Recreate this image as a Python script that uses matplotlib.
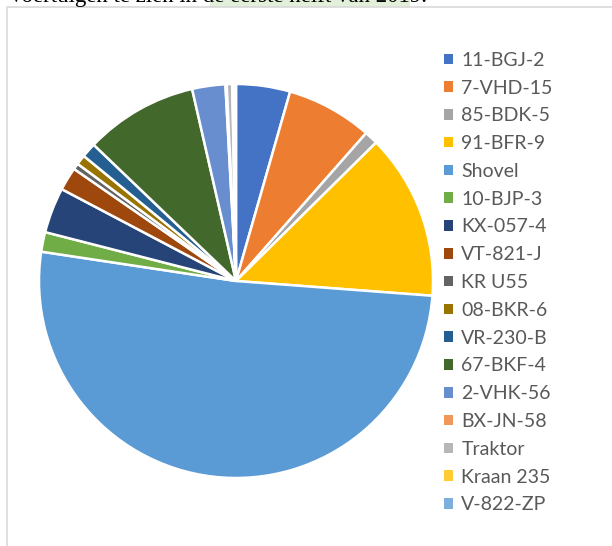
import matplotlib
matplotlib.use("Agg")
import matplotlib.pyplot as plt
from matplotlib.patches import Rectangle

labels = ["11-BGJ-2", "7-VHD-15", "85-BDK-5", "91-BFR-9", "Shovel", "10-BJP-3",
          "KX-057-4", "VT-821-J", "KR U55", "08-BKR-6", "VR-230-B", "67-BKF-4",
          "2-VHK-56", "BX-JN-58", "Traktor", "Kraan 235", "V-822-ZP"]
values = [4.4, 7.0, 1.1, 13.5, 50.8, 1.6, 3.7, 1.9, 0.5, 0.8, 1.2, 9.2,
          2.7, 0.1, 0.45, 0.15, 0.15]
colors = ["#4472C4", "#ED7D31", "#A5A5A5", "#FFC000", "#5B9BD5", "#70AD47",
          "#264478", "#9E480E", "#636363", "#997300", "#255E91", "#43682B",
          "#698ED0", "#F1975A", "#B7B7B7", "#FFCD33", "#7CAFDD"]
title_text = "Voertuigen te zien in de eerste helft van 2019."

W, H = 612, 546
fig = plt.figure(figsize=(W / 100, H / 100), dpi=100)

# page text cut off at top, with highlight
fig.patches.append(Rectangle((210 / W, 1 - 7 / H), 200 / W, 7 / H, transform=fig.transFigure,
                             facecolor="#E2F0D9", edgecolor="none", zorder=0))
fig.text(8 / W, 1 - 2 / H, title_text, family="Liberation Serif", fontsize=16.5,
         va="baseline", ha="left", color="black")

# chart frame
fig.patches.append(Rectangle((7 / W, -0.05), 1.0, 1 - 7 / H + 0.05, transform=fig.transFigure,
                             facecolor="none", edgecolor="#D9D9D9", lw=1.2, zorder=1))

cx, cy, r = 236, 281, 197
ax = fig.add_axes([(cx - r) / W, (H - cy - r) / H, 2 * r / W, 2 * r / H])
wedges, _ = ax.pie(values, colors=colors, startangle=90, counterclock=False,
                   radius=1.0, wedgeprops=dict(edgecolor="white", linewidth=1.8))
ax.set_xlim(-1, 1)
ax.set_ylim(-1, 1)
ax.set_aspect("equal")
ax.axis("off")

handles = [Rectangle((0, 0), 1, 1, facecolor=c, edgecolor="none") for c in colors]
leg = fig.legend(handles, labels, loc="upper left", bbox_to_anchor=(434 / W, 1 - 42 / H),
                 frameon=False, prop=dict(family="Lato", size=14),
                 handlelength=0.46, handleheight=0.46, handletextpad=0.45,
                 labelspacing=0.555, borderpad=0)
for t in leg.get_texts():
    t.set_color("#595959")

fig.savefig("out.png", dpi=100)
